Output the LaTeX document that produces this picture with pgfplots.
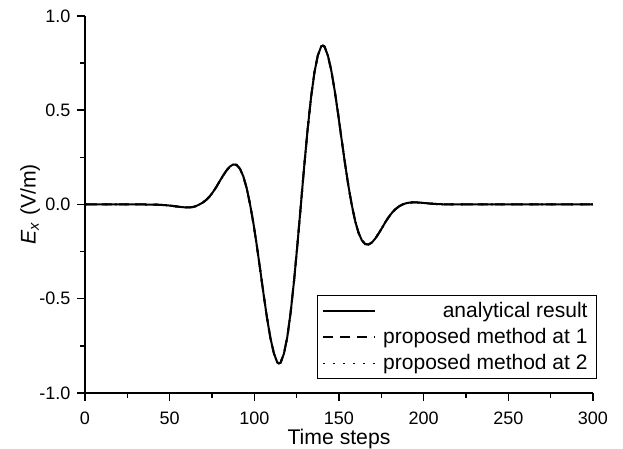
\documentclass[border=0pt]{standalone}
\usepackage{fontspec}
\setmainfont{Liberation Sans}
\usepackage{pgfplots}
\usepackage{pgfplotstable}
\pgfplotsset{compat=1.18}

\pgfplotstableread{
t y
0 0
20 0
35.5 0
39.5 -0.0003
43.5 -0.0014
47.5 -0.0036
49.5 -0.0053
51.5 -0.0073
53.5 -0.0097
55.5 -0.0119
57.5 -0.0141
59.5 -0.0155
61.5 -0.0157
63.5 -0.0137
65.5 -0.0088
67.5 0
69.5 0.0098
71.5 0.0235
73.5 0.0415
75.5 0.0649
77.5 0.0919
79.5 0.1230
81.5 0.1525
83.5 0.1797
85.5 0.2009
87.5 0.2123
89.5 0.2100
91.5 0.1900
93.5 0.1493
95.5 0.0861
97.5 0
99.5 -0.1019
101.5 -0.2200
103.5 -0.3482
105.5 -0.4786
107.5 -0.6020
109.5 -0.7084
111.5 -0.7880
113.5 -0.8370
114.5 -0.8430
115.5 -0.8390
117.5 -0.7908
119.5 -0.7011
121.5 -0.5689
123.5 -0.4009
125.5 -0.2072
127.5 0
129.5 0.2072
131.5 0.4009
133.5 0.5689
135.5 0.7011
137.5 0.7908
139.5 0.8390
140.5 0.8430
141.5 0.8370
143.5 0.7880
145.5 0.7084
147.5 0.6020
149.5 0.4786
151.5 0.3482
153.5 0.2200
155.5 0.1019
157.5 0
159.5 -0.0861
161.5 -0.1493
163.5 -0.1900
165.5 -0.2100
167.5 -0.2123
169.5 -0.2009
171.5 -0.1797
173.5 -0.1525
175.5 -0.1230
177.5 -0.0919
179.5 -0.0649
181.5 -0.0415
183.5 -0.0235
185.5 -0.0098
187.5 0
189.5 0.0063
191.5 0.0098
193.5 0.0112
195.5 0.0111
197.5 0.0101
199.5 0.0085
201.5 0.0069
203.5 0.0052
205.5 0.0038
207.5 0.0026
211.5 0.0010
215.5 0.0002
230 0
260 0
300 0
}\datatable

\begin{document}
\begin{tikzpicture}
\begin{axis}[
  scale only axis,
  width=254pt, height=188.5pt,
  xmin=0, xmax=300, ymin=-1, ymax=1,
  axis x line*=bottom, axis y line*=left,
  axis line style={line width=0.75pt, -},
  xtick={0,50,...,300}, ytick={-1,-0.5,0,0.5,1},
  minor x tick num=1, minor y tick num=1,
  tick align=outside,
  major tick length=3.8pt, minor tick length=2.3pt,
  tick style={line width=0.75pt, black},
  yticklabel style={/pgf/number format/fixed, /pgf/number format/fixed zerofill, /pgf/number format/precision=1},
  /pgf/number format/assume math mode=true,
  ticklabel style={font=\fontsize{9}{11}\selectfont},
  xticklabel style={yshift=-2.2pt},
  xlabel={Time steps},
  ylabel={\textit{E}\textsubscript{\textit{x}} (V/m)},
  label style={font=\fontsize{10.6}{12}\selectfont},
  xlabel style={at={(axis description cs:0.5,-0.123)}, anchor=center},
  ylabel style={at={(axis description cs:-0.108,0.5)}, anchor=center},
  legend style={at={(1.008,0.037)}, anchor=south east, draw=black, line width=0.5pt,
    font=\fontsize{10.5}{11}\selectfont, fill=white, inner xsep=2.5pt, inner ysep=1pt,
    row sep=0pt},
  legend cell align=right,
  legend image code/.code={\draw[#1, line width=0.9pt] (0pt,0pt) -- (26pt,0pt); \path (27.5pt,0pt);},
]
\addplot[black, line width=1pt] table[x=t,y=y] {\datatable};
\addlegendentry{analytical result}
\addplot[black, line width=1pt, dash pattern=on 5pt off 3.5pt] table[x=t,y=y] {\datatable};
\addlegendentry{proposed method at 1}
\addplot[black, line width=1pt, dash pattern=on 1pt off 4pt] table[x=t,y=y] {\datatable};
\addlegendentry{proposed method at 2}
\coordinate (ll) at (rel axis cs:0,0);
\coordinate (ur) at (rel axis cs:1,1);
\end{axis}
\pgfresetboundingbox
\path[use as bounding box] ([shift={(-42.5pt,-28pt)}]ll) rectangle ([shift={(15pt,8pt)}]ur);
\end{tikzpicture}
\end{document}
